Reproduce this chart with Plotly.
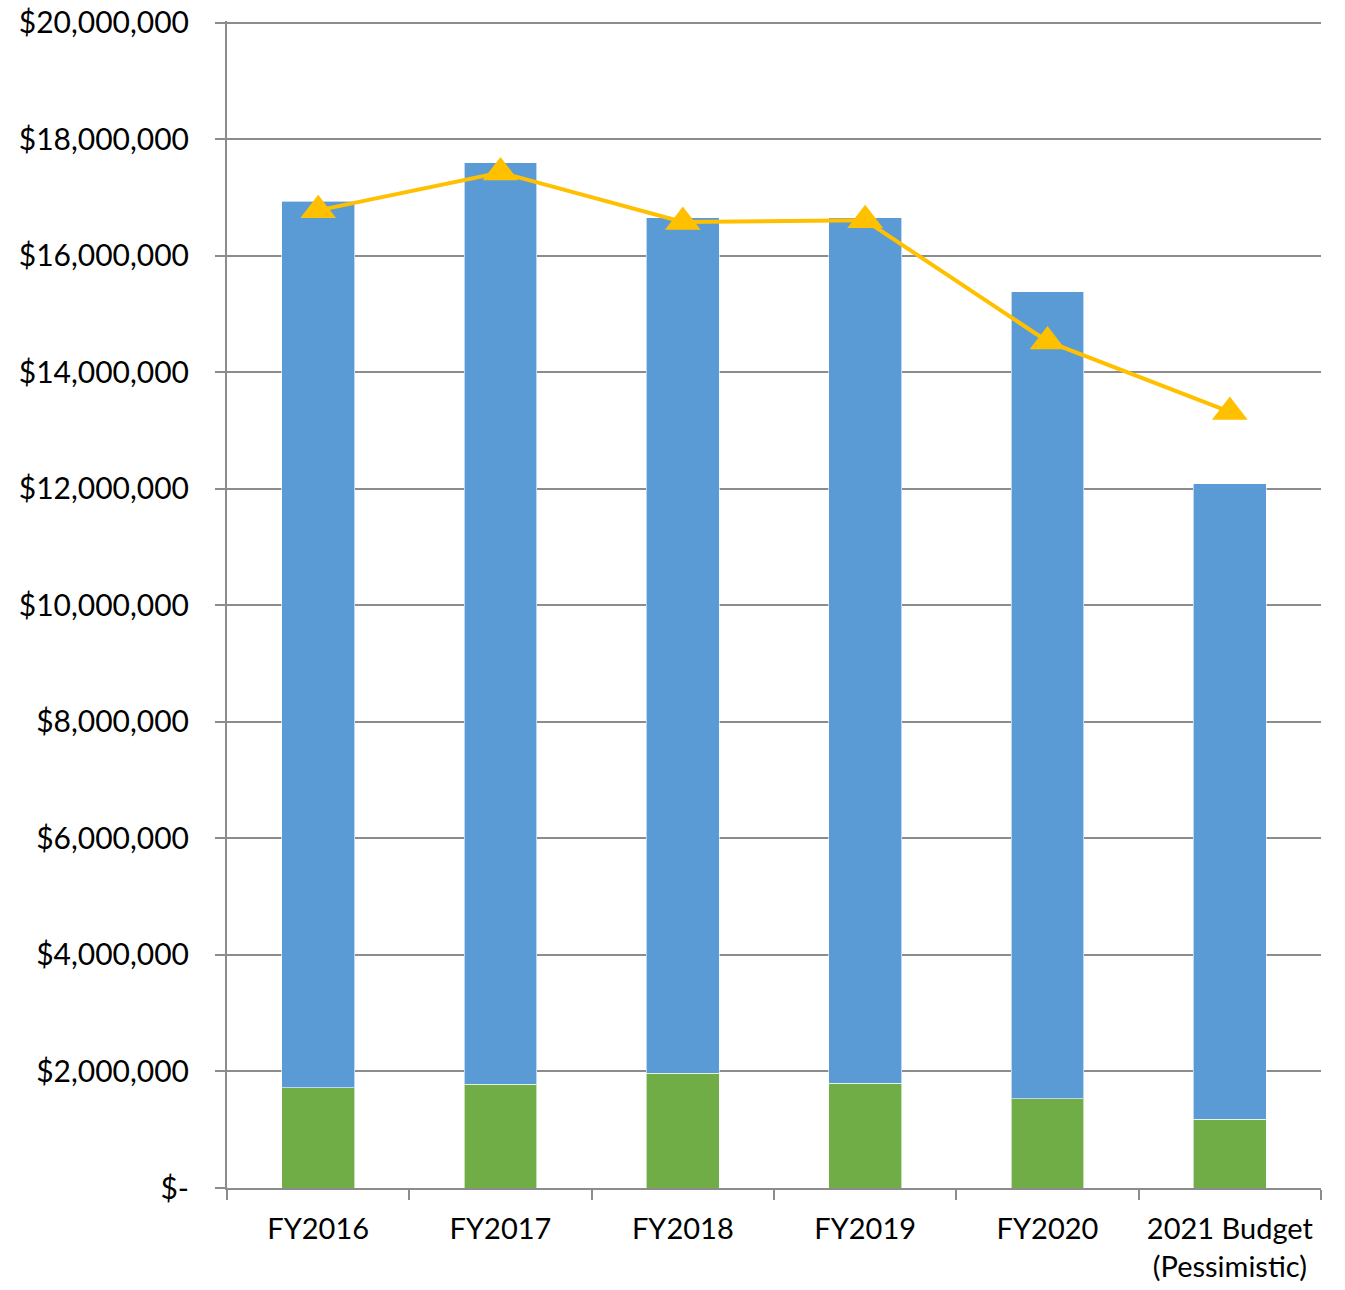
import plotly.graph_objects as go

categories = ["FY2016", "FY2017", "FY2018", "FY2019", "FY2020", "2021 Budget<br>(Pessimistic)"]
green_vals = [1720000, 1780000, 1970000, 1800000, 1530000, 1180000]
total_vals = [16940000, 17600000, 16650000, 16650000, 15380000, 12090000]
blue_vals = [t - g for t, g in zip(total_vals, green_vals)]
line_vals = [16780000, 17430000, 16580000, 16610000, 14530000, 13320000]

y_tickvals = list(range(0, 20000001, 2000000))
y_ticktext = ["$-"] + ["${:,}".format(v) for v in y_tickvals[1:]]

GRAY = "#8c8c8c"
FONT = "Lato"

fig = go.Figure()
fig.add_trace(go.Bar(x=categories, y=green_vals, marker=dict(color="#70AD47", line=dict(color="rgba(255,255,255,0.6)", width=1))))
fig.add_trace(go.Bar(x=categories, y=blue_vals, marker=dict(color="#5B9BD5", line=dict(color="rgba(255,255,255,0.6)", width=1))))
fig.add_trace(go.Scatter(x=categories, y=line_vals, mode="lines+markers",
                         line=dict(color="#FFC000", width=4),
                         marker=dict(symbol="triangle-up", size=31, color="#FFC000")))

fig.update_layout(
    barmode="stack", bargap=0.6, showlegend=False, hovermode=False,
    width=1345, height=1290,
    margin=dict(l=227, r=24, t=21, b=102, autoexpand=False),
    paper_bgcolor="white", plot_bgcolor="white",
    font=dict(family=FONT, size=29, color="#000000"),
)
fig.update_xaxes(
    showline=True, linecolor=GRAY, linewidth=2,
    ticks="outside", ticklen=10, tickcolor=GRAY, tickwidth=2,
    tickson="boundaries", showgrid=False, automargin=False,
    ticklabelstandoff=14,
    tickfont=dict(family=FONT, size=29, color="#000"),
)
fig.update_yaxes(
    range=[0, 20030000], tickvals=y_tickvals, ticktext=y_ticktext,
    showline=True, linecolor=GRAY, linewidth=2,
    showgrid=True, gridcolor=GRAY, gridwidth=2,
    ticks="outside", ticklen=10, tickcolor=GRAY, tickwidth=2,
    ticklabelstandoff=20, zeroline=False, automargin=False,
    ticklabeloverflow="allow",
    tickfont=dict(family=FONT, size=30, color="#000"),
)
fig.write_html("out.html", config={"displayModeBar": False},
               post_script="document.body.style.margin='0';")
